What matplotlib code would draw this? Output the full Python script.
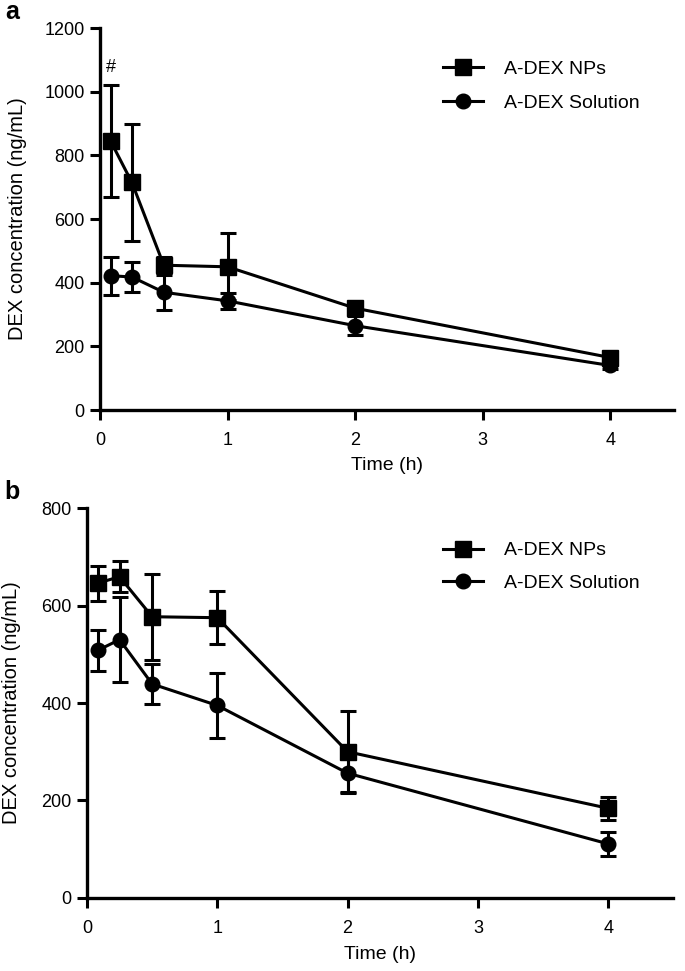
import matplotlib
matplotlib.use('Agg')
from matplotlib import pyplot as plt
from matplotlib.lines import Line2D

plt.rcParams['font.family'] = ['Liberation Sans', 'DejaVu Sans']

time_h = [0.083, 0.25, 0.5, 1, 2, 4]

# panel a
a_nps = [845, 715, 455, 450, 320, 165]
a_nps_err = [175, 185, 25, 105, 20, 15]
a_sol = [422, 418, 370, 343, 265, 140]
a_sol_err = [60, 48, 55, 25, 30, 10]

# panel b
b_nps = [646, 659, 577, 575, 300, 184]
b_nps_err = [36, 32, 88, 54, 84, 24]
b_sol = [508, 530, 439, 395, 256, 111]
b_sol_err = [42, 87, 41, 67, 38, 25]

x_ticks = [0, 1, 2, 3, 4]
labels = ['A-DEX NPs', 'A-DEX Solution']


def draw_panel(ax, nps, nps_err, sol, sol_err, ymax, ylab_x, legend_top, spacing):
    style = dict(color='black', linewidth=2.2, elinewidth=2.2, capsize=6, capthick=2.2)
    ax.errorbar(time_h, nps, yerr=nps_err, marker='s', markersize=11, **style)
    ax.errorbar(time_h, sol, yerr=sol_err, marker='o', markersize=10.5, **style)
    ax.set_xlim(0, 4.5)
    ax.set_ylim(0, ymax)
    ax.set_xticks(x_ticks)
    ax.set_yticks(range(0, ymax + 1, 200))
    for side in ['top', 'right']:
        ax.spines[side].set_visible(False)
    for side in ['left', 'bottom']:
        ax.spines[side].set_linewidth(2.4)
    ax.tick_params(direction='out', length=7, width=2.2, labelsize=13)
    ax.tick_params(axis='x', pad=9)
    ax.tick_params(axis='y', pad=4)
    ax.set_xlabel('Time (h)', fontsize=14)
    ax.set_ylabel('DEX concentration (ng/mL)', fontsize=14.5)
    ax.xaxis.set_label_coords(0.5, -0.123)
    ax.yaxis.set_label_coords(ylab_x, 0.5)

    handles = [Line2D([], [], color='black', linewidth=2.2, marker='s', markersize=11),
               Line2D([], [], color='black', linewidth=2.2, marker='o', markersize=10.5)]
    ax.legend(handles, labels, loc='upper left', bbox_to_anchor=(0.647, legend_top),
              bbox_transform=fig.transFigure, frameon=False, fontsize=14,
              handlelength=2.05, handletextpad=1.1, labelspacing=spacing,
              borderpad=0, borderaxespad=0)


fig = plt.figure(figsize=(6.85, 9.71), dpi=100)

ax_a = fig.add_axes([0.146, 0.5777, 0.838, 0.3934])
draw_panel(ax_a, a_nps, a_nps_err, a_sol, a_sol_err, 1200, -0.127, 0.938, 0.85)
ax_a.text(time_h[0], 1075, '#', ha='center', va='center', fontsize=13)

ax_b = fig.add_axes([0.127, 0.0752, 0.856, 0.4016])
draw_panel(ax_b, b_nps, b_nps_err, b_sol, b_sol_err, 800, -0.113, 0.442, 0.75)

fig.text(0.0175, 0.988, 'a', fontsize=18, fontweight='bold', ha='center', va='center')
fig.text(0.0175, 0.493, 'b', fontsize=18, fontweight='bold', ha='center', va='center')

fig.savefig('out.png', dpi=100)
